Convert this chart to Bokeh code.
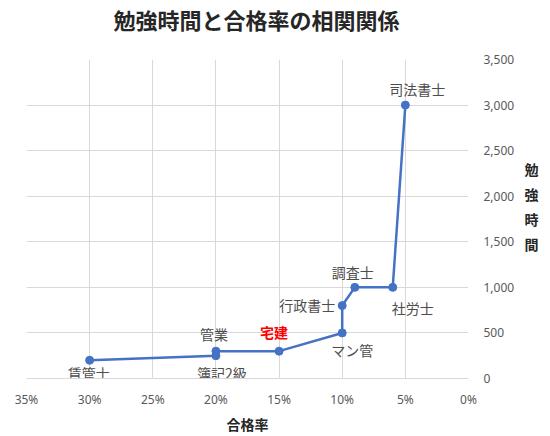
from bokeh.plotting import figure
from bokeh.models import (ColumnDataSource, Range1d, FixedTicker, NumeralTickFormatter, LinearAxis, Title)
from bokeh.core.properties import value
from bokeh.embed import file_html
from bokeh.resources import INLINE

# ---- data ----
names = ["賃管士", "簿記2級", "管業", "宅建", "マン管", "行政書士", "調査士", "社労士", "司法書士"]
pass_rate = [0.30, 0.20, 0.20, 0.15, 0.10, 0.10, 0.09, 0.06, 0.05]
study_hours = [200, 250, 300, 300, 500, 800, 1000, 1000, 3000]
highlight = "宅建"
x_ticks = [0.0, 0.05, 0.10, 0.15, 0.20, 0.25, 0.30, 0.35]
y_ticks = [0, 500, 1000, 1500, 2000, 2500, 3000, 3500]
title_text = "勉強時間と合格率の相関関係"
x_title = "合格率"
y_title = "勉強時間"

# ---- label styling (screen-pixel offsets, +y = down) ----
label_dx = {"賃管士": -1, "簿記2級": 6, "管業": -2, "宅建": -5, "マン管": 10,
            "行政書士": -35, "調査士": -2, "社労士": 20, "司法書士": 12}
label_dy = {"賃管士": 13, "簿記2級": 17, "管業": -17, "宅建": -19, "マン管": 17,
            "行政書士": -1, "調査士": -15, "社労士": 21, "司法書士": -16}
# vertical placement of the stacked y-axis title characters (in axis units)
y_title_pos = [2300, 2025, 1750, 1475]

JP = "Noto Sans CJK JP"
GRID = "#d9d9d9"
TXT = "#595959"
BLUE = "#4472C4"
DARK = "#262626"

src = ColumnDataSource(dict(
    x=pass_rate, y=study_hours, name=names,
    dx=[label_dx[n] for n in names], dy=[label_dy[n] for n in names],
    color=["#ff0000" if n == highlight else "#4d4d4d" for n in names],
    style=["bold" if n == highlight else "normal" for n in names],
))

p = figure(width=550, height=436, output_backend="svg", toolbar_location=None,
           x_range=Range1d(0.35, 0.0), y_range=Range1d(0, 3500),
           y_axis_location="right",
           min_border_left=26, min_border_right=82, min_border_top=59, min_border_bottom=58)
p.outline_line_color = None
p.background_fill_color = "white"
p.border_fill_color = "white"

p.title.text = title_text
p.title.align = "left"
p.title.offset = 87
p.title.vertical_align = "top"
p.title.standoff = 4
p.title.text_font = JP
p.title.text_font_size = "22px"
p.title.text_font_style = "bold"
p.title.text_color = DARK

# spacer between the title and the plot frame
p.add_layout(Title(text=" ", text_font_size="1px", standoff=18), "above")

# x axis
xa = p.xaxis[0]
xa.ticker = FixedTicker(ticks=x_ticks)
xa.formatter = NumeralTickFormatter(format="0%")
xa.axis_line_color = GRID
xa.major_tick_line_color = None
xa.minor_tick_line_color = None
xa.major_label_standoff = 6
xa.major_label_text_font = "Noto Sans"
xa.major_label_text_font_size = "12px"
xa.major_label_text_color = TXT
xa.axis_label = x_title
xa.axis_label_text_font = JP
xa.axis_label_text_font_size = "14px"
xa.axis_label_text_font_style = "bold"
xa.axis_label_text_color = DARK
xa.axis_label_standoff = 3

# y axis (right)
ya = p.yaxis[0]
ya.ticker = FixedTicker(ticks=y_ticks)
ya.formatter = NumeralTickFormatter(format="0,0")
ya.axis_line_color = None
ya.major_tick_line_color = None
ya.minor_tick_line_color = None
ya.major_label_standoff = 9
ya.major_label_text_font = "Noto Sans"
ya.major_label_text_font_size = "12px"
ya.major_label_text_color = TXT

# stacked y-axis title as a second right axis
ta = LinearAxis(ticker=FixedTicker(ticks=y_title_pos),
                major_label_overrides={t: ch for t, ch in zip(y_title_pos, y_title)})
ta.axis_line_color = None
ta.major_tick_line_color = None
ta.minor_tick_line_color = None
ta.major_label_standoff = 1
ta.major_label_text_font = JP
ta.major_label_text_font_size = "14px"
ta.major_label_text_font_style = "bold"
ta.major_label_text_color = DARK
p.add_layout(ta, "right")

p.xgrid.ticker = FixedTicker(ticks=x_ticks)
p.ygrid.ticker = FixedTicker(ticks=y_ticks)
p.xgrid.grid_line_color = GRID
p.ygrid.grid_line_color = GRID

# data
p.line("x", "y", source=src, line_color=BLUE, line_width=2.5)
p.scatter("x", "y", source=src, size=8, fill_color=BLUE, line_color=BLUE)
p.text("x", "y", text="name", source=src, x_offset="dx", y_offset="dy",
       text_font=value(JP), text_font_size="14px", text_color="color",
       text_font_style="style", text_align="center", text_baseline="middle")

open("out.html", "w").write(file_html(p, INLINE))
